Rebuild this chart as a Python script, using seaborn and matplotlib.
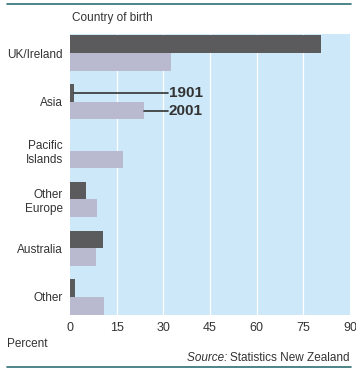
import pandas as pd
import matplotlib.pyplot as plt
import seaborn as sns

# Data (percent of overseas-born)
countries = ["UK/Ireland", "Asia", "Pacific\nIslands", "Other\nEurope", "Australia", "Other"]
pct_1901 = [80.7, 1.3, 0.0, 5.1, 10.6, 1.6]
pct_2001 = [32.5, 23.8, 17.0, 8.7, 8.4, 10.9]
years = ["1901", "2001"]
x_ticks = [0, 15, 30, 45, 60, 75, 90]

df = pd.DataFrame({
    "country": countries * 2,
    "pct": pct_1901 + pct_2001,
    "year": [years[0]] * len(countries) + [years[1]] * len(countries),
})

sns.set_theme(style="white")
plt.rcParams["font.family"] = ["Liberation Sans", "DejaVu Sans"]
txt = "#333333"

fig = plt.figure(figsize=(3.56, 3.74), dpi=100)
ax = fig.add_axes([70 / 356, 1 - 315 / 374, 280 / 356, 281 / 374])
ax.set_facecolor("#cde9f9")

sns.barplot(data=df, y="country", x="pct", hue="year", orient="h",
            palette={"1901": "#5b5b5d", "2001": "#b9b9cf"},
            width=0.72, gap=0, saturation=1, legend=False,
            edgecolor="none", linewidth=0, ax=ax)

ax.set_xlim(0, 90)
ax.set_ylim(5.37, -0.39)
ax.set_xticks(x_ticks)
ax.set_xticklabels([str(t) for t in x_ticks])
for t in x_ticks[1:-1]:
    ax.axvline(t, color="white", lw=0.9, zorder=0)
ax.set_axisbelow(True)
ax.set_xlabel("")
ax.set_ylabel("")
ax.tick_params(axis="y", length=0, labelsize=8.5, colors=txt, pad=5)
ax.tick_params(axis="x", length=0, labelsize=9, colors=txt, pad=5)
for s in ax.spines.values():
    s.set_visible(False)

# labels for the two years pointing at the Asia bars
b1 = ax.containers[0][1]
b2 = ax.containers[1][1]
y1 = b1.get_y() + b1.get_height() / 2
y2 = b2.get_y() + b2.get_height() / 2
ax.plot([b1.get_width(), 31.5], [y1, y1], color=txt, lw=1.2)
ax.plot([b2.get_width(), 31.5], [y2, y2], color=txt, lw=1.2)
ax.text(31.8, y1, "1901", fontsize=11, fontweight="bold", color=txt, va="center")
ax.text(31.8, y2, "2001", fontsize=11, fontweight="bold", color=txt, va="center")

fig.text(72 / 356, 1 - 18 / 374, "Country of birth", fontsize=8.5, color=txt, va="center")
fig.text(7 / 356, 1 - 344 / 374, "Percent", fontsize=8.5, color=txt, va="center")
src = fig.text(350 / 356, 1 - 358 / 374, "Statistics New Zealand",
               fontsize=8.5, color=txt, ha="right", va="center")
ax.annotate("Source: ", xy=(0, 0.5), xycoords=src, ha="right", va="center",
            fontsize=8.5, color=txt, style="italic", annotation_clip=False)

# teal rules at top and bottom
for yy in (4, 367):
    fig.add_artist(plt.Line2D([7 / 356, 351 / 356], [1 - yy / 374, 1 - yy / 374],
                              color="#2f6f73", lw=1.2))

fig.savefig("out.png", dpi=100)
